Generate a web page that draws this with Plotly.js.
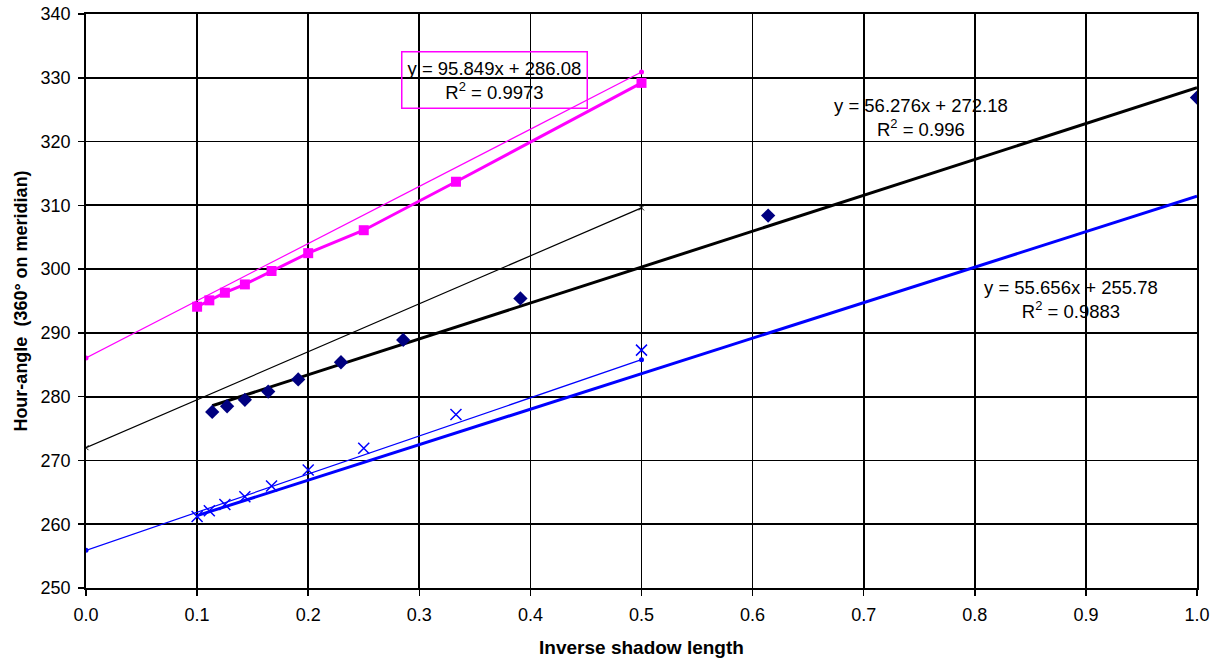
<!DOCTYPE html>
<html><head><meta charset="utf-8">
<script src="https://cdn.plot.ly/plotly-3.0.1.min.js"></script>
<style>html,body{margin:0;padding:0;background:#fff;}#chart{width:1227px;height:663px;}</style>
</head><body><div id="chart"></div>
<script>
// Magenta series (squares)
const magX = [0.1, 0.111, 0.125, 0.143, 0.167, 0.2, 0.25, 0.333, 0.5];
const magY = [294.1, 295.1, 296.3, 297.6, 299.7, 302.5, 306.1, 313.7, 329.2];
// Navy diamonds
const diaX = [0.1136, 0.127, 0.143, 0.164, 0.191, 0.2295, 0.2855, 0.391, 0.614, 1.0];
const diaY = [277.6, 278.5, 279.5, 280.8, 282.7, 285.4, 288.9, 295.4, 308.4, 326.9];
// Blue crosses
const crsX = [0.1, 0.111, 0.125, 0.143, 0.167, 0.2, 0.25, 0.333, 0.5];
const crsY = [261.2, 262.1, 263.1, 264.3, 266.0, 268.5, 271.9, 277.2, 287.3];
// Thin reference lines (from x=0 to x=0.5)
const thinX = [0, 0.5];
const thinMagY = [286.08, 330.9];
const thinBlkY = [272.0, 309.6];
const thinBluY = [255.9, 285.8];
// Trendlines
const blkSlope = 56.276, blkIntercept = 272.18, blkRange = [0.1136, 1.0];
const bluSlope = 55.656, bluIntercept = 255.78, bluRange = [0.1, 1.0];
const labels = [
  "y = 95.849x + 286.08<br>R<sup>2</sup> = 0.9973",
  "y = 56.276x + 272.18<br>R<sup>2</sup> = 0.996",
  "y = 55.656x + 255.78<br>R<sup>2</sup> = 0.9883"
];
const xTicks = [0,0.1,0.2,0.3,0.4,0.5,0.6,0.7,0.8,0.9,1.0];
const yTicks = [250,260,270,280,290,300,310,320,330,340];

const traces = [
  {x: thinX, y: thinMagY, mode:'lines+markers', line:{color:'#ff00ff', width:1.2}, marker:{symbol:'circle', size:5, color:'#ff00ff'}},
  {x: thinX, y: thinBlkY, mode:'lines+markers', line:{color:'#000000', width:1.2}, marker:{symbol:'x-thin-open', size:5, color:'#000', line:{width:1, color:'#000'}}},
  {x: thinX, y: thinBluY, mode:'lines+markers', line:{color:'#0000ff', width:1.2}, marker:{symbol:'circle', size:5, color:'#0000ff'}},
  {x: blkRange, y: blkRange.map(v=>blkSlope*v+blkIntercept), mode:'lines', line:{color:'#000', width:3}},
  {x: bluRange, y: bluRange.map(v=>bluSlope*v+bluIntercept), mode:'lines', line:{color:'#0000ff', width:3}},
  {x: magX, y: magY, mode:'lines+markers', line:{color:'#ff00ff', width:3}, marker:{symbol:'square', size:10, color:'#ff00ff'}},
  {x: diaX, y: diaY, mode:'markers', marker:{symbol:'diamond', size:11, color:'#000080'}},
  {x: crsX, y: crsY, mode:'markers', marker:{symbol:'x-thin-open', size:11, color:'#0000ff', line:{width:1.5, color:'#0000ff'}}}
];

const fam = 'Liberation Sans, Arial, sans-serif';
const tickFnt = {family:fam, size:18, color:'#000'};
const annFnt = {family:fam, size:18.5, color:'#000'};
const layout = {
  width:1227, height:663,
  margin:{l:86, r:30, t:14, b:75},
  paper_bgcolor:'#fff', plot_bgcolor:'#fff',
  showlegend:false,
  font: tickFnt,
  xaxis:{range:[0,1], tickvals:xTicks, tickformat:'.1f', showgrid:true, gridcolor:'#000', gridwidth:1.8,
    zeroline:false, showline:true, linecolor:'#000', linewidth:1.8, mirror:true, ticks:'outside', ticklen:6, tickcolor:'#000', tickwidth:1.5,
    ticklabelstandoff:4,
    tickfont:tickFnt, title:{text:'<b>Inverse shadow length</b>', font:{family:fam, size:19, color:'#000'}, standoff:16}},
  yaxis:{range:[250,340], tickvals:yTicks, showgrid:true, gridcolor:'#000', gridwidth:1.8,
    zeroline:false, showline:true, linecolor:'#000', linewidth:1.8, mirror:true, ticks:'outside', ticklen:6, tickcolor:'#000', tickwidth:1.5,
    ticklabelstandoff:4,
    tickfont:tickFnt, title:{text:'<b>Hour-angle  (360° on meridian)</b>', font:{family:fam, size:18, color:'#000'}, standoff:8}},
  annotations:[
    {x:0.368, y:329.6, xref:'x', yref:'y', text:labels[0], showarrow:false, font:annFnt, bordercolor:'#ff00ff', borderwidth:1.5, borderpad:5, align:'center'},
    {x:0.752, y:323.7, xref:'x', yref:'y', text:labels[1], showarrow:false, font:annFnt, align:'center'},
    {x:0.887, y:295.25, xref:'x', yref:'y', text:labels[2], showarrow:false, font:annFnt, align:'center'}
  ]
};
Plotly.newPlot('chart', traces, layout, {displayModeBar:false, staticPlot:true});
</script></body></html>
